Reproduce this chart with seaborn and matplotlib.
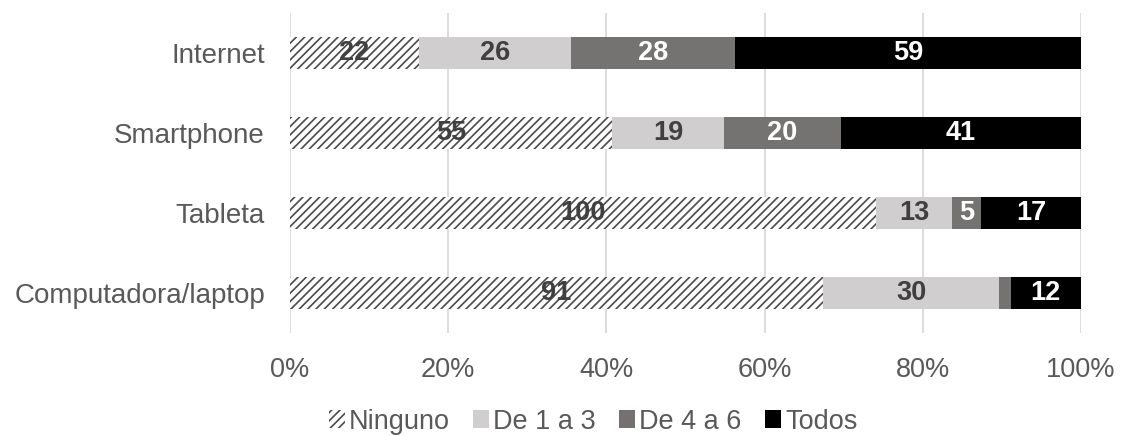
import numpy as np
import pandas as pd
import matplotlib
matplotlib.use("Agg")
import matplotlib.pyplot as plt
import matplotlib.patches as mpatches
import seaborn as sns

categories = ["Internet", "Smartphone", "Tableta", "Computadora/laptop"]
series_names = ["Ninguno", "De 1 a 3", "De 4 a 6", "Todos"]
ninguno = [22, 55, 100, 91]
de1a3 = [26, 19, 13, 30]
de4a6 = [28, 20, 5, 2]
todos = [59, 41, 17, 12]
tick_labels = ["0%", "20%", "40%", "60%", "80%", "100%"]

sns.set_theme(style="white")
plt.rcParams["font.family"] = ["Liberation Sans", "DejaVu Sans"]
plt.rcParams["hatch.linewidth"] = 1.2

counts = np.array([ninguno, de1a3, de4a6, todos], dtype=float)
totals = counts.sum(axis=0)
pct = counts / totals * 100
cum = np.cumsum(pct, axis=0)

colors = ["#ffffff", "#d0cece", "#767171", "#000000"]
label_colors = ["#404040", "#404040", "#ffffff", "#ffffff"]
hatch_color = "#4a4a4a"

fig = plt.figure(figsize=(11.21, 4.36), dpi=100)
ax = fig.add_axes([0.2587, 0.236, 0.9643 - 0.2587, 0.970 - 0.236])

# Draw cumulative layers from the widest down so each segment stays visible
for i in range(3, -1, -1):
    df = pd.DataFrame({"cat": categories, "val": cum[i]})
    kw = dict(color=colors[i], linewidth=0)
    if i == 0:
        kw.update(hatch="////", edgecolor=hatch_color)
    sns.barplot(data=df, x="val", y="cat", orient="h", width=0.39,
                ax=ax, zorder=2, **kw)

# Segment value labels
for i in range(4):
    left = cum[i] - pct[i]
    for j, cat in enumerate(categories):
        v = counts[i, j]
        if pct[i, j] < 2:
            continue
        ax.text(left[j] + pct[i, j] / 2, j, f"{int(v)}", ha="center", va="center",
                fontsize=19.5, fontweight="bold", color=label_colors[i], zorder=4)

ax.set_xlim(0, 100)
ax.set_xticks(np.arange(0, 101, 20))
ax.set_xticklabels(tick_labels)
ax.set_xlabel("")
ax.set_ylabel("")
ax.grid(axis="x", color="#d9d9d9", linewidth=1.3, zorder=0)
ax.grid(axis="y", visible=False)
ax.set_axisbelow(True)
for s in ax.spines.values():
    s.set_visible(False)
ax.tick_params(axis="x", length=0, labelsize=19.5, colors="#595959", pad=17)
ax.tick_params(axis="y", length=0, labelsize=20, colors="#595959", pad=18)

handles = []
for i, name in enumerate(series_names):
    if i == 0:
        h = mpatches.Patch(facecolor="#ffffff", edgecolor=hatch_color, hatch="////",
                           linewidth=0, label=name)
    else:
        h = mpatches.Patch(facecolor=colors[i], linewidth=0, label=name)
    handles.append(h)
fig.legend(handles=handles, loc="center", bbox_to_anchor=(0.529, 0.033), ncol=4,
           frameon=False, fontsize=19.5, handlelength=0.6, handleheight=0.6,
           handletextpad=0.15, columnspacing=0.85, labelcolor="#595959",
           borderpad=0.2)

fig.savefig("out.png", dpi=100)
